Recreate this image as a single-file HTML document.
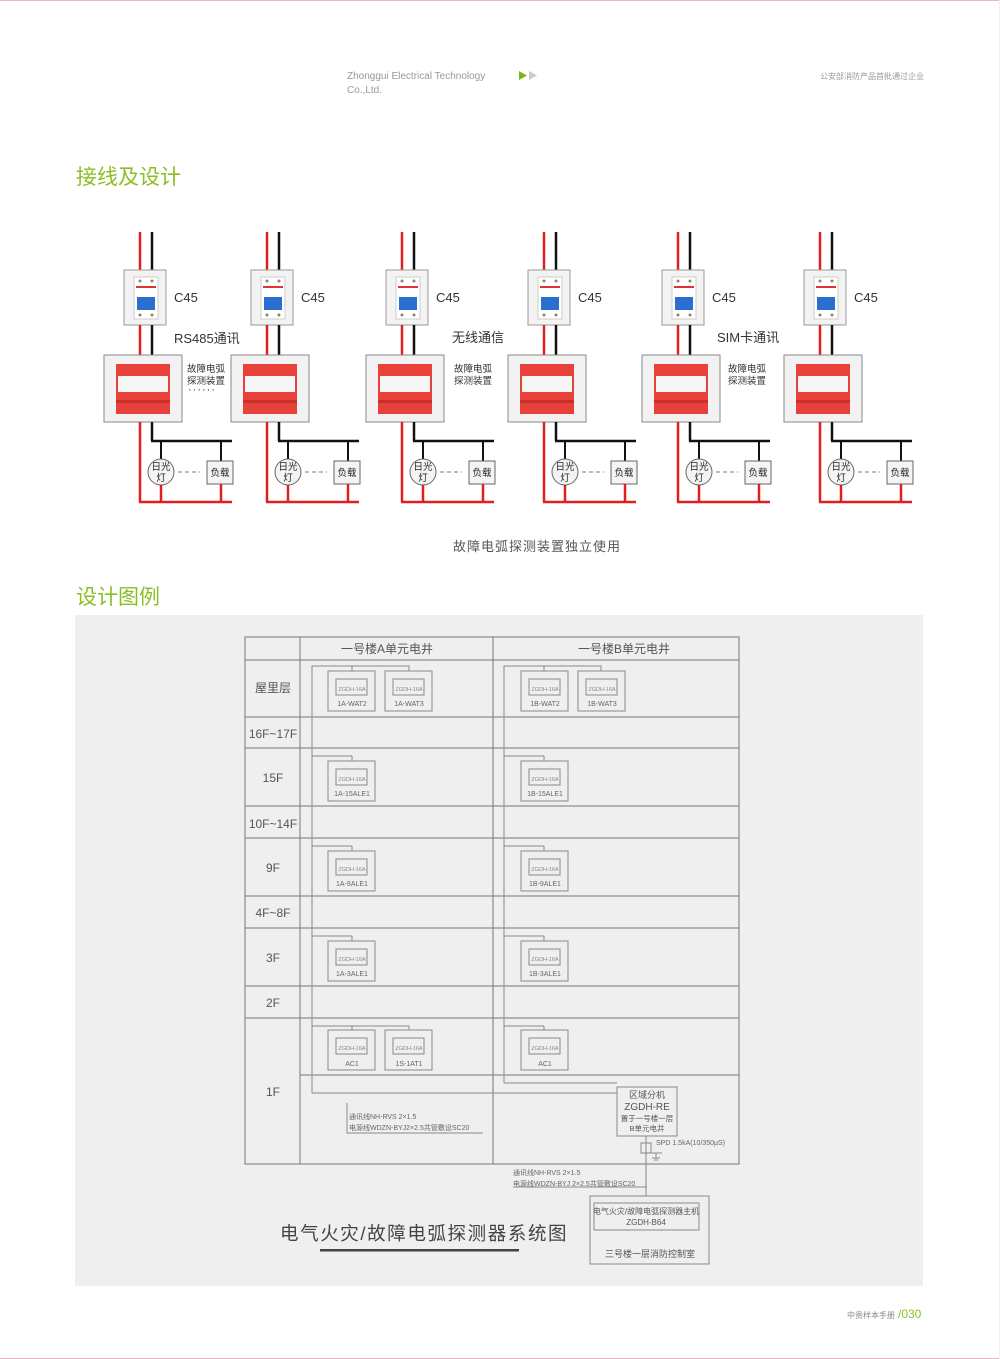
<!DOCTYPE html>
<html><head><meta charset="utf-8"><style>
html,body{margin:0;padding:0;background:#fff}
svg{display:block}
text{font-family:"Liberation Sans","Noto Sans CJK SC",sans-serif}
</style></head><body>
<svg width="1000" height="1359" viewBox="0 0 1000 1359" xmlns="http://www.w3.org/2000/svg">
<defs>
<g id="u">
 <line x1="140" y1="232" x2="140" y2="270" stroke="#e02020" stroke-width="2.5"/>
 <line x1="152" y1="232" x2="152" y2="270" stroke="#111" stroke-width="2.5"/>
 <rect x="124" y="270" width="42" height="55" fill="#f3f3f3" stroke="#999"/>
 <rect x="134" y="277" width="24" height="42" fill="#fff" stroke="#ccc"/>
 <rect x="136" y="286" width="20" height="2" fill="#d33"/>
 <rect x="137" y="297" width="18" height="13" fill="#2a6fd0"/>
 <circle cx="140" cy="281" r="1.5" fill="#886"/><circle cx="152" cy="281" r="1.5" fill="#886"/>
 <circle cx="140" cy="315" r="1.5" fill="#886"/><circle cx="152" cy="315" r="1.5" fill="#886"/>
 <line x1="140" y1="325" x2="140" y2="355" stroke="#e02020" stroke-width="2.5"/>
 <line x1="152" y1="325" x2="152" y2="355" stroke="#111" stroke-width="2.5"/>
 <rect x="104" y="355" width="78" height="67" fill="#f2f2f2" stroke="#888"/>
 <rect x="116" y="364" width="54" height="50" fill="#e8403a"/>
 <rect x="118" y="376" width="50" height="16" fill="#f6f6f6"/>
 <rect x="116" y="400" width="54" height="3" fill="#c93028"/>
 <line x1="140" y1="422" x2="140" y2="502" stroke="#e02020" stroke-width="2.5"/>
 <line x1="152" y1="422" x2="152" y2="441" stroke="#111" stroke-width="2.5"/>
 <line x1="151" y1="441" x2="232" y2="441" stroke="#111" stroke-width="2.5"/>
 <line x1="161" y1="441" x2="161" y2="459" stroke="#111" stroke-width="2"/>
 <line x1="221" y1="441" x2="221" y2="461" stroke="#111" stroke-width="2"/>
 <circle cx="161" cy="472" r="13" fill="#f4f4f4" stroke="#666"/>
 <rect x="207" y="461" width="26" height="23" fill="#f4f4f4" stroke="#666"/>
 <line x1="178" y1="472" x2="200" y2="472" stroke="#777" stroke-dasharray="4,3"/>
 <line x1="161" y1="485" x2="161" y2="502" stroke="#e02020" stroke-width="2.5"/>
 <line x1="221" y1="484" x2="221" y2="502" stroke="#e02020" stroke-width="2.5"/>
 <line x1="139" y1="502" x2="232" y2="502" stroke="#e02020" stroke-width="2.5"/>
</g>
<g id="d">
 <rect x="0" y="0" width="47" height="40" fill="none" stroke="#888"/>
 <rect x="8" y="8" width="31" height="16" fill="none" stroke="#888"/>
</g>
</defs>
<rect x="0" y="0" width="1000" height="1359" fill="#fff"/>
<line x1="0" y1="0.5" x2="1000" y2="0.5" stroke="#e7b5d0"/>
<line x1="0" y1="1358.5" x2="1000" y2="1358.5" stroke="#e7b5d0"/>
<line x1="999.5" y1="0" x2="999.5" y2="1359" stroke="#eee"/>
<text x="347" y="79" font-size="10" fill="#999">Zhonggui Electrical Technology</text>
<text x="347" y="93" font-size="10" fill="#999">Co.,Ltd.</text>
<polygon points="519,71 519,80 527,75.5" fill="#7ab51d"/>
<polygon points="529,71 529,80 537,75.5" fill="#ccc"/>
<text x="924" y="79" font-size="8" fill="#999" text-anchor="end">公安部消防产品首批通过企业</text>
<text x="76" y="184" font-size="21" fill="#8cbf26">接线及设计</text>
<text x="76" y="604" font-size="21" fill="#8cbf26">设计图例</text>

<use href="#u"/>
<use href="#u" x="127"/>
<use href="#u" x="262"/>
<use href="#u" x="404"/>
<use href="#u" x="538"/>
<use href="#u" x="680"/>
<g font-size="13" fill="#333">
<text x="174" y="302">C45</text><text x="301" y="302">C45</text><text x="436" y="302">C45</text>
<text x="578" y="302">C45</text><text x="712" y="302">C45</text><text x="854" y="302">C45</text>
<text x="174" y="343">RS485通讯</text><text x="452" y="342">无线通信</text><text x="717" y="342">SIM卡通讯</text>
</g>
<g font-size="9.5" fill="#333">
<text x="187" y="372">故障电弧</text><text x="187" y="384">探测装置</text><text x="188" y="393" font-size="11" letter-spacing="1">······</text>
<text x="454" y="372">故障电弧</text><text x="454" y="384">探测装置</text>
<text x="728" y="372">故障电弧</text><text x="728" y="384">探测装置</text>
</g>
<g font-size="9.5" fill="#222" text-anchor="middle">
<text x="161" y="470">日光</text><text x="161" y="481">灯</text><text x="220" y="476">负载</text>
<text x="288" y="470">日光</text><text x="288" y="481">灯</text><text x="347" y="476">负载</text>
<text x="423" y="470">日光</text><text x="423" y="481">灯</text><text x="482" y="476">负载</text>
<text x="565" y="470">日光</text><text x="565" y="481">灯</text><text x="624" y="476">负载</text>
<text x="699" y="470">日光</text><text x="699" y="481">灯</text><text x="758" y="476">负载</text>
<text x="841" y="470">日光</text><text x="841" y="481">灯</text><text x="900" y="476">负载</text>
</g>
<text x="537" y="551" font-size="13" fill="#555" text-anchor="middle" letter-spacing="1">故障电弧探测装置独立使用</text>

<rect x="75" y="615" width="848" height="671" fill="#efefef"/>
<g stroke="#777" fill="none" stroke-width="1">
<rect x="245" y="637" width="494" height="527"/>
<line x1="300" y1="637" x2="300" y2="1164"/>
<line x1="493" y1="637" x2="493" y2="1164"/>
<line x1="245" y1="660" x2="739" y2="660"/>
<line x1="245" y1="717" x2="739" y2="717"/>
<line x1="245" y1="748" x2="739" y2="748"/>
<line x1="245" y1="806" x2="739" y2="806"/>
<line x1="245" y1="838" x2="739" y2="838"/>
<line x1="245" y1="896" x2="739" y2="896"/>
<line x1="245" y1="928" x2="739" y2="928"/>
<line x1="245" y1="986" x2="739" y2="986"/>
<line x1="245" y1="1018" x2="739" y2="1018"/>
<line x1="300" y1="1075" x2="739" y2="1075"/>
</g>
<g stroke="#888" fill="none" stroke-width="1">
<polyline points="312,1093 312,666 409,666 409,671"/>
<line x1="352" y1="666" x2="352" y2="671"/>
<line x1="312" y1="756" x2="352" y2="756"/><line x1="352" y1="756" x2="352" y2="761"/>
<line x1="312" y1="846" x2="352" y2="846"/><line x1="352" y1="846" x2="352" y2="851"/>
<line x1="312" y1="936" x2="352" y2="936"/><line x1="352" y1="936" x2="352" y2="941"/>
<polyline points="312,1026 409,1026 409,1030"/><line x1="352" y1="1026" x2="352" y2="1030"/>
<line x1="312" y1="1093" x2="617" y2="1093"/>
<polyline points="504,1083 504,666 601,666 601,671"/>
<line x1="544" y1="666" x2="544" y2="671"/>
<line x1="504" y1="756" x2="544" y2="756"/><line x1="544" y1="756" x2="544" y2="761"/>
<line x1="504" y1="846" x2="544" y2="846"/><line x1="544" y1="846" x2="544" y2="851"/>
<line x1="504" y1="936" x2="544" y2="936"/><line x1="544" y1="936" x2="544" y2="941"/>
<line x1="504" y1="1026" x2="544" y2="1026"/><line x1="544" y1="1026" x2="544" y2="1030"/>
<line x1="504" y1="1083" x2="617" y2="1083"/>
<rect x="617" y="1087" width="60" height="49"/>
<line x1="646" y1="1136" x2="646" y2="1196"/>
<rect x="590" y="1196" width="119" height="68"/>
<rect x="594" y="1203" width="105" height="27"/>
<polyline points="347,1103 347,1133 483,1133"/>
<line x1="513" y1="1187" x2="647" y2="1187"/>
<rect x="641" y="1143" width="10" height="10"/>
<line x1="651" y1="1153" x2="662" y2="1153"/><line x1="656" y1="1153" x2="656" y2="1158"/>
<line x1="652" y1="1158" x2="660" y2="1158"/><line x1="654" y1="1160" x2="658" y2="1160"/>
</g>
<use href="#d" x="328" y="671"/><use href="#d" x="385" y="671"/>
<use href="#d" x="521" y="671"/><use href="#d" x="578" y="671"/>
<use href="#d" x="328" y="761"/><use href="#d" x="521" y="761"/>
<use href="#d" x="328" y="851"/><use href="#d" x="521" y="851"/>
<use href="#d" x="328" y="941"/><use href="#d" x="521" y="941"/>
<use href="#d" x="328" y="1030"/><use href="#d" x="385" y="1030"/><use href="#d" x="521" y="1030"/>
<g font-size="5.5" fill="#888" text-anchor="middle">
<text x="352" y="691">ZGDH-16A</text><text x="409" y="691">ZGDH-16A</text><text x="545" y="691">ZGDH-16A</text><text x="602" y="691">ZGDH-16A</text>
<text x="352" y="781">ZGDH-16A</text><text x="545" y="781">ZGDH-16A</text>
<text x="352" y="871">ZGDH-16A</text><text x="545" y="871">ZGDH-16A</text>
<text x="352" y="961">ZGDH-16A</text><text x="545" y="961">ZGDH-16A</text>
<text x="352" y="1050">ZGDH-16A</text><text x="409" y="1050">ZGDH-16A</text><text x="545" y="1050">ZGDH-16A</text>
</g>
<g font-size="7" fill="#666" text-anchor="middle">
<text x="352" y="706">1A-WAT2</text><text x="409" y="706">1A-WAT3</text><text x="545" y="706">1B-WAT2</text><text x="602" y="706">1B-WAT3</text>
<text x="352" y="796">1A-15ALE1</text><text x="545" y="796">1B-15ALE1</text>
<text x="352" y="886">1A-9ALE1</text><text x="545" y="886">1B-9ALE1</text>
<text x="352" y="976">1A-3ALE1</text><text x="545" y="976">1B-3ALE1</text>
<text x="352" y="1066">AC1</text><text x="409" y="1066">1S-1AT1</text><text x="545" y="1066">AC1</text>
</g>
<g font-size="12" fill="#555" text-anchor="middle">
<text x="387" y="653">一号楼A单元电井</text><text x="624" y="653">一号楼B单元电井</text>
<text x="273" y="692">屋里层</text>
<text x="273" y="738">16F~17F</text>
<text x="273" y="782">15F</text>
<text x="273" y="828">10F~14F</text>
<text x="273" y="872">9F</text>
<text x="273" y="917">4F~8F</text>
<text x="273" y="962">3F</text>
<text x="273" y="1007">2F</text>
<text x="273" y="1096">1F</text>
</g>
<g fill="#555" text-anchor="middle">
<text x="647" y="1098" font-size="9">区域分机</text>
<text x="647" y="1110" font-size="10">ZGDH-RE</text>
<text x="647" y="1121" font-size="7.5">置于一号楼一层</text>
<text x="647" y="1131" font-size="7.5">B单元电井</text>
<text x="646" y="1214" font-size="8">电气火灾/故障电弧探测器主机</text>
<text x="646" y="1225" font-size="8">ZGDH-B64</text>
<text x="650" y="1257" font-size="9">三号楼一层消防控制室</text>
</g>
<g font-size="7" fill="#666">
<text x="349" y="1119">通讯线NH-RVS 2×1.5</text>
<text x="349" y="1130">电源线WDZN-BYJ2×2.5共管敷设SC20</text>
<text x="513" y="1175">通讯线NH-RVS 2×1.5</text>
<text x="513" y="1186">电源线WDZN-BYJ 2×2.5共管敷设SC20</text>
<text x="656" y="1145">SPD 1.5kA(10/350μS)</text>
</g>
<text x="280" y="1240" font-size="18.5" fill="#444" letter-spacing="1.6">电气火灾/故障电弧探测器系统图</text>
<rect x="320" y="1249" width="199" height="2.5" fill="#444"/>
<text x="895" y="1318" font-size="8" fill="#888" text-anchor="end">中贵样本手册</text>
<text x="898" y="1318" font-size="12" fill="#8cbf26">/030</text>
</svg>
</body></html>
